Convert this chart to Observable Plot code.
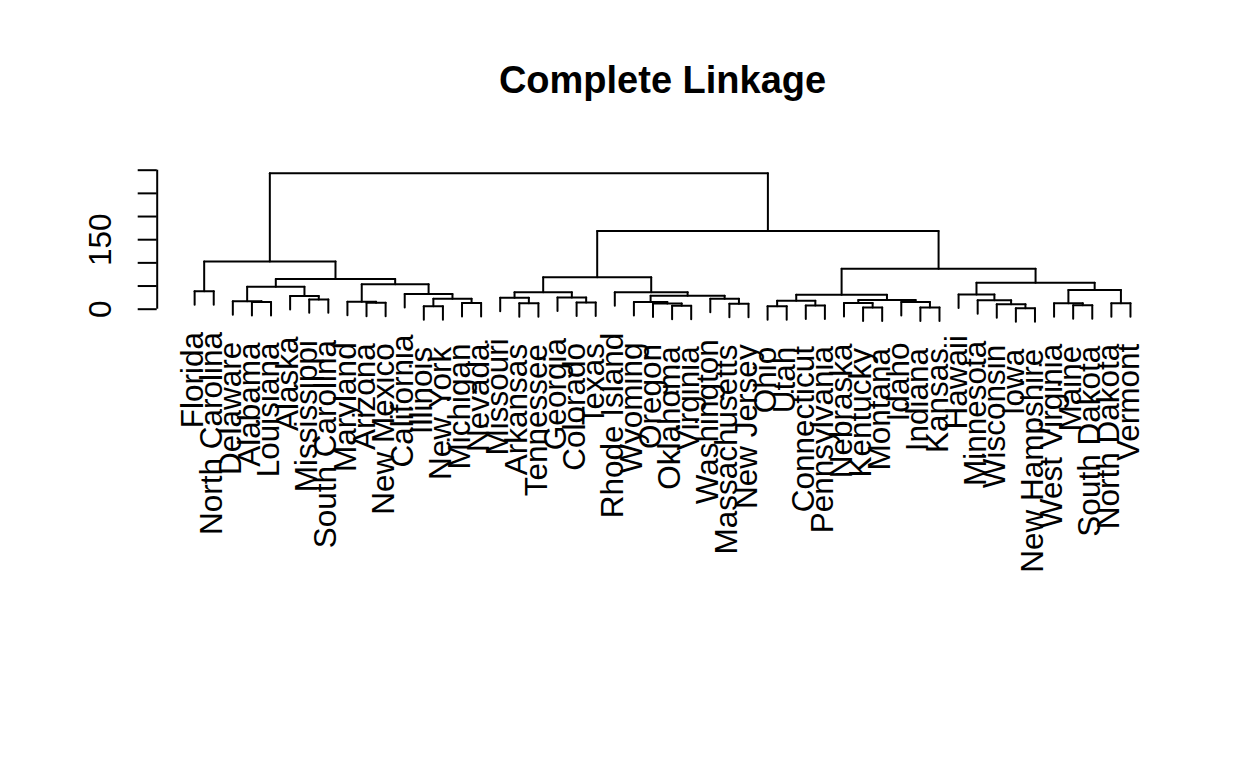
<!DOCTYPE html>
<html>
<head>
<meta charset="utf-8">
<script src="https://cdn.jsdelivr.net/npm/d3@7"></script>
<script src="https://cdn.jsdelivr.net/npm/@observablehq/plot@0.6"></script>
<style>
  html, body { margin: 0; padding: 0; background: #fff; }
  #chart svg { display: block; }
</style>
</head>
<body>
<div id="chart"></div>
<script>
// Dendrogram (complete linkage). Each internal node: [mergeHeight, leftChild, rightChild]; leaves are state names.
const title = "Complete Linkage";

const leftGroup = [102.9,
  [38.5, "Florida", "North Carolina"],
  [65.0,
    [48.7, [17.0, "Delaware", [15.5, "Alabama", "Louisiana"]],
           [28.6, "Alaska", [21.2, "Mississippi", "South Carolina"]]],
    [53.6, [15.9, "Maryland", [13.9, "Arizona", "New Mexico"]],
           [32.7, "California", [22.4, [6.2, "Illinois", "New York"], [13.3, "Michigan", "Nevada"]]]]]];

const middleGroup = [68.8,
  [36.7, [24.9, "Missouri", [12.6, "Arkansas", "Tennessee"]],
         [25.1, "Georgia", [14.5, "Colorado", "Texas"]]],
  [36.8, "Rhode Island",
         [29.2, [15.6, "Wyoming", [12.4, "Oregon", [7.4, "Oklahoma", "Virginia"]]],
                [22.8, "Washington", [11.5, "Massachusetts", "New Jersey"]]]]];

const rightGroup = [87.3,
  [31.4, [18.3, [6.6, "Ohio", "Utah"], [8.0, "Connecticut", "Pennsylvania"]],
         [19.9, [13.3, "Nebraska", [3.8, "Kentucky", "Montana"]],
                [15.4, "Idaho", [3.9, "Indiana", "Kansas"]]]],
  [57.3, [31.6, "Hawaii", [19.4, "Minnesota", [10.9, "Wisconsin", [2.3, "Iowa", "New Hampshire"]]]],
         [41.5, [12.8, "West Virginia", [8.5, "Maine", "South Dakota"]],
                [13.1, "North Dakota", "Vermont"]]]];

const joinHeights = [293.6, 168.6];
const tree = [joinHeights[0], leftGroup, [joinHeights[1], middleGroup, rightGroup]];

const yTicks = [0, 50, 100, 150, 200, 250, 300];
const yTickLabels = [0, 150];

// ---- layout (R plot.hclust style: hang = 0.1 of height range) ----
const heights = [];
(function collect(n) { if (typeof n === "string") return; heights.push(n[0]); collect(n[1]); collect(n[2]); })(tree);
const hang = 0.1 * (d3.max(heights) - d3.min(heights));

const leaves = [];
const segs = [];
let counter = 0;
function layout(node) {
  if (typeof node === "string") {
    const leaf = {name: node, x: ++counter, end: 0};
    leaves.push(leaf);
    return {x: leaf.x, h: null, leaf};
  }
  const [h, a, b] = node;
  const L = layout(a), R = layout(b);
  segs.push({x1: L.x, x2: R.x, y1: h, y2: h});
  for (const C of [L, R]) {
    const bottom = C.leaf ? h - hang : C.h;
    if (C.leaf) C.leaf.end = bottom;
    segs.push({x1: C.x, x2: C.x, y1: h, y2: bottom});
  }
  return {x: (L.x + R.x) / 2, h};
}
layout(tree);

const n = leaves.length;
const pad = 0.04 * (n - 1);
const xDomain = [1 - pad, n + pad];

const font = "'Liberation Sans', Arial, Helvetica, sans-serif";
const lw = 2;

const chart = Plot.plot({
  width: 1248,
  height: 768,
  marginLeft: 156.7,
  marginRight: 80.6,
  marginTop: 169.7,
  marginBottom: 459.3,
  style: {background: "#fff", fontFamily: font, color: "#000"},
  x: {domain: xDomain, axis: null},
  y: {domain: [yTicks[0], yTicks[yTicks.length - 1]], axis: null},
  marks: [
    Plot.link(segs, {x1: "x1", y1: "y1", x2: "x2", y2: "y2", stroke: "#000", strokeWidth: lw, strokeLinecap: "round"}),
    Plot.ruleX([xDomain[0]], {y1: yTicks[0], y2: yTicks[yTicks.length - 1], stroke: "#000", strokeWidth: lw}),
    Plot.axisY({ticks: yTicks, anchor: "left", tickSize: 19, tickFormat: () => "", stroke: "#000", strokeWidth: lw}),
    Plot.text(yTickLabels, {frameAnchor: "left", y: d => d, text: d => String(d), rotate: -90,
      textAnchor: "middle", lineAnchor: "middle", dx: -56, fontSize: 31.5, fill: "#000"}),
    Plot.text(leaves, {x: "x", y: "end", text: "name", rotate: -90, textAnchor: "end", lineAnchor: "middle",
      dx: -2, dy: 27, fontSize: 31.5, fill: "#000"}),
    Plot.text([title], {frameAnchor: "top", text: d => d, dy: -77.7, lineAnchor: "bottom",
      fontSize: 38, fontWeight: "bold", fill: "#000"})
  ]
});
document.getElementById("chart").appendChild(chart);
</script>
</body>
</html>
